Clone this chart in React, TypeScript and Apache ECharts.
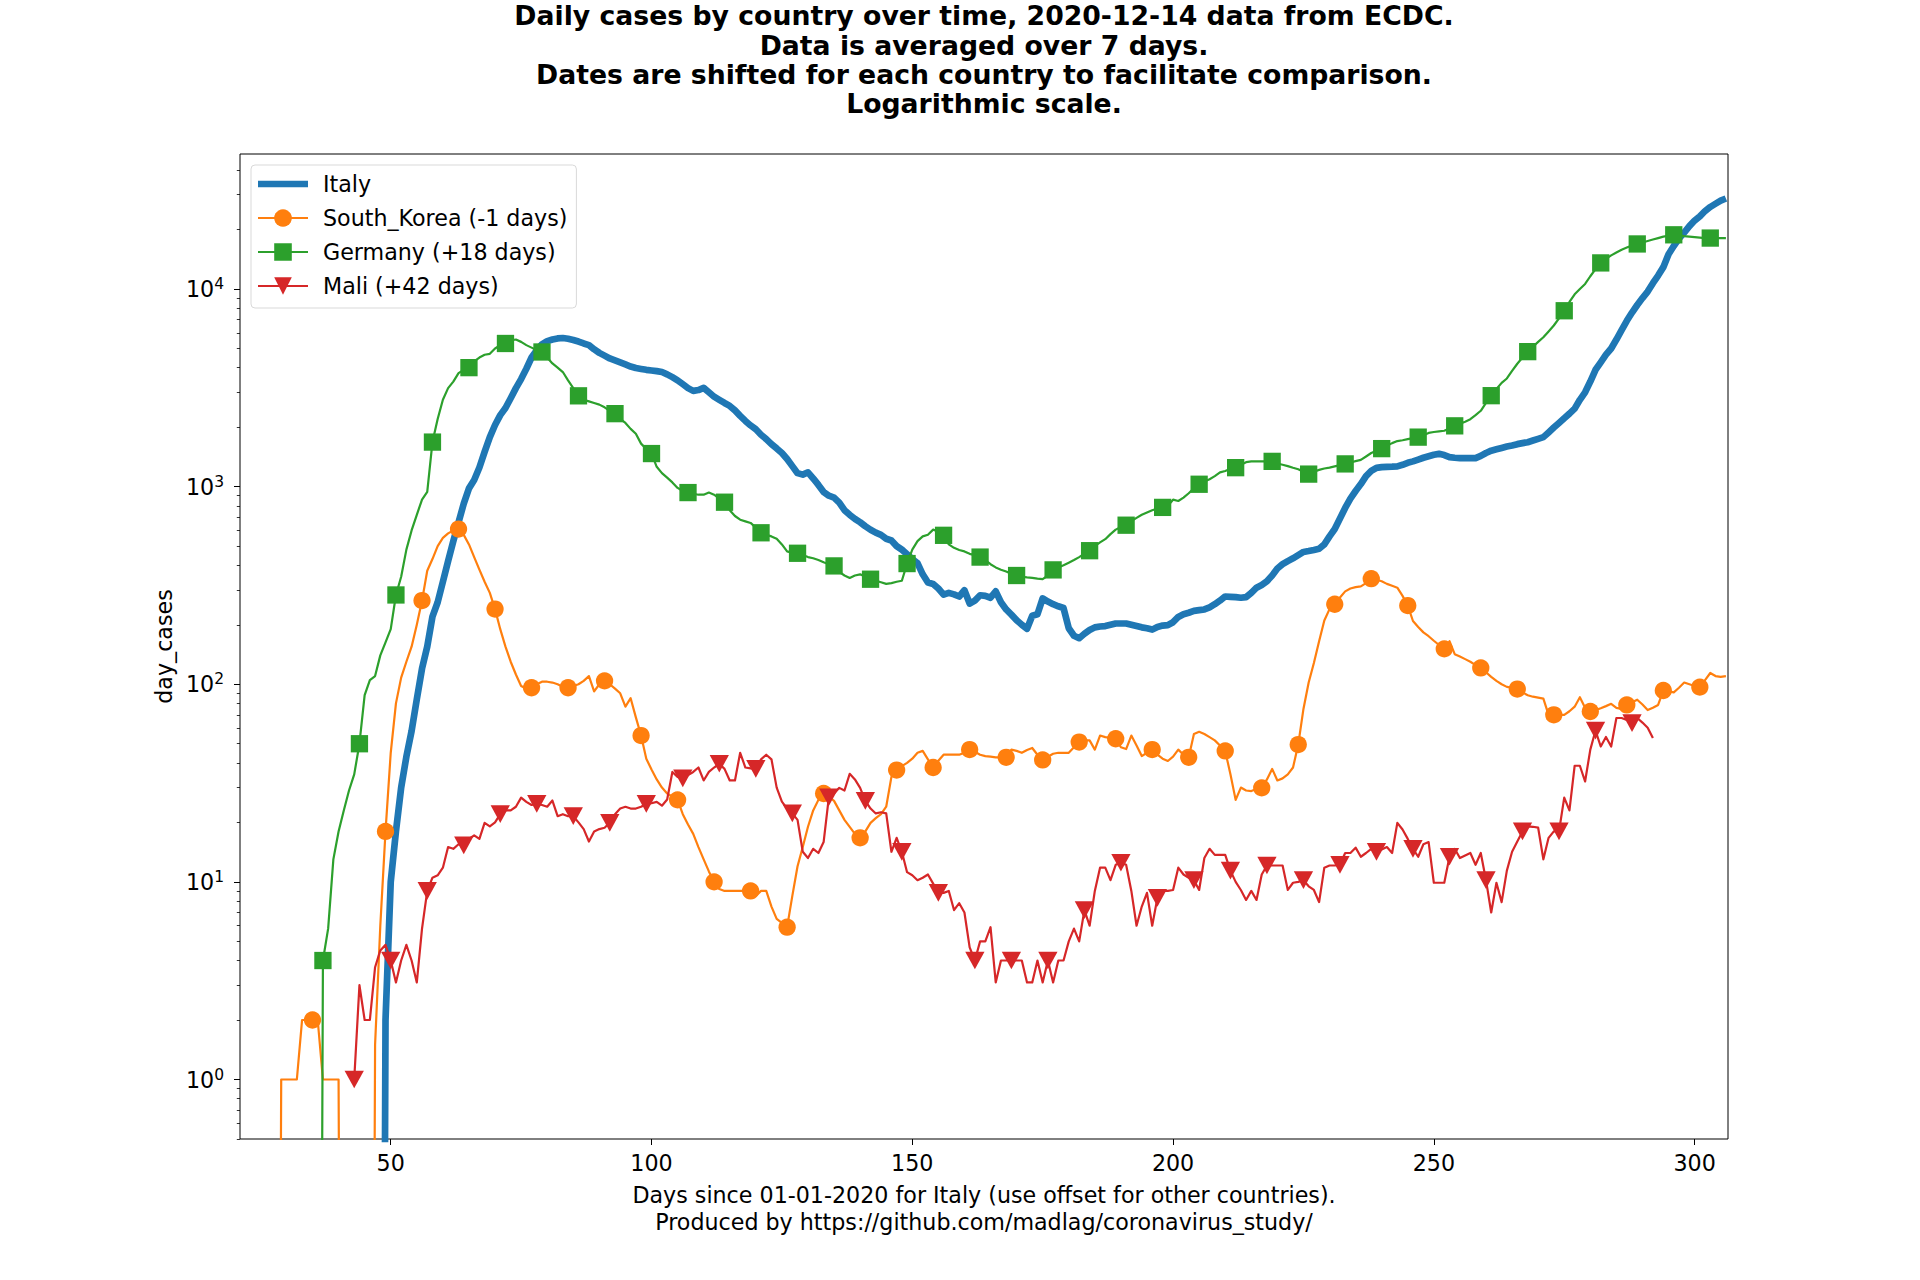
import React, { useEffect, useRef } from "react";
import * as echarts from "echarts";

// ---- data (7-day averaged daily cases) ----
const italyStart = 48;
const italyValues = [
  0, 2, 10, 18, 30, 43, 58, 84, 120, 155, 220, 260, 330, 420, 530, 660, 820, 980, 1080, 1250,
  1500, 1780, 2050, 2300, 2500, 2800, 3150, 3500, 3950, 4500, 4900, 5250, 5450, 5550, 5620, 5650, 5600, 5520, 5420, 5300,
  5200, 4950, 4750, 4600, 4450, 4350, 4250, 4150, 4050, 3980, 3940, 3900, 3870, 3840, 3800, 3700, 3580, 3450, 3300, 3150,
  3050, 3080, 3160, 3000, 2850, 2750, 2650, 2560, 2430, 2280, 2150, 2040, 1950, 1830, 1740, 1640, 1560, 1480, 1380, 1270,
  1170, 1150, 1180, 1100, 1020, 940, 900, 880, 830, 760, 720, 687, 660, 630, 605, 585, 570, 545, 534, 500,
  480, 455, 430, 410, 360, 327, 322, 305, 284, 290, 285, 278, 299, 256, 265, 282, 280, 274, 295, 260,
  239, 225, 211, 200, 191, 222, 226, 272, 262, 254, 248, 243, 192, 176, 171, 180, 188, 194, 196, 197,
  200, 203, 203, 203, 200, 197, 194, 192, 189, 195, 198, 199, 206, 219, 226, 230, 235, 237, 239, 245,
  254, 265, 278, 277, 276, 274, 276, 290, 308, 318, 332, 355, 385, 405, 420, 434, 450, 467, 472, 478,
  485, 510, 560, 610, 690, 780, 870, 950, 1030, 1130, 1200, 1245, 1255, 1260, 1262, 1266, 1290, 1320, 1342, 1370,
  1400, 1425, 1450, 1465, 1445, 1410, 1400, 1395, 1393, 1393, 1393, 1430, 1480, 1520, 1545, 1570, 1595, 1615, 1640, 1660,
  1678, 1710, 1745, 1780, 1880, 1990, 2100, 2220, 2340, 2480, 2750, 3000, 3400, 3900, 4250, 4650, 5000, 5550, 6200, 6900,
  7600, 8300, 9000, 9700, 10700, 11700, 12900, 15000, 16500, 18000, 19300, 20800, 22200, 23300, 24800, 26000, 27000, 28000, 28700,
];

const koreaStart = 28;
const koreaValues = [
  0, 1, 1, 1, 1, 2, 2, 2, 2, 1, 1, 1, 1, 0, 0, 0, 0, 0, 0, 1.5,
  6, 18, 45, 80, 108, 130, 155, 200, 265, 375, 430, 500, 550, 580, 600, 610, 570, 510, 440, 380,
  330, 290, 240, 190, 155, 130, 112, 98, 95, 96, 100, 103, 103, 102, 100, 97, 96, 98, 100, 104,
  110, 92, 100, 104, 100, 95, 90, 77, 85, 68, 55, 42, 37, 33, 30, 28, 27, 26, 22, 19.5,
  17.5, 15, 13, 11.3, 10, 9.2, 9, 9, 9, 9, 9, 9, 8.5, 9, 9, 7.5, 6.5, 6.2, 5.9, 8.5,
  12, 15, 19, 23, 26, 28, 27, 25.7, 23, 20.6, 19, 17.5, 16.7, 18, 19.9, 21, 22, 24, 34, 36.8,
  38.5, 40, 42, 45, 46, 41.7, 37.9, 41, 44, 44, 44, 44, 45, 46.7, 45.5, 44, 43.3, 43, 42.7, 42.7,
  42.7, 46.7, 46, 45, 46.5, 47.6, 44, 41.4, 43, 44.5, 45, 45, 45, 48, 51, 52, 52, 46.7, 55, 54,
  53.5, 53, 48, 47, 55, 49, 43.3, 45, 46.7, 44, 42, 40.9, 43, 46.7, 44, 42.7, 56, 57.5, 56, 54,
  52, 49, 46, 35, 26, 30, 29, 28.8, 29.5, 29.9, 33, 37.3, 32.6, 33.4, 35, 37.9, 49.5, 75, 102, 128,
  165, 210, 240, 254, 275, 295, 305, 310, 313, 325, 342, 338, 332, 322, 315, 308, 280, 250, 209, 195,
  183, 175, 166, 158, 151, 165, 142, 138, 134, 130, 125, 121, 115, 109, 104, 100, 97, 96, 94.5, 91,
  88, 86.5, 85.5, 84.6, 70, 70, 70, 70, 73, 77, 86, 76, 72.8, 74, 75.6, 77.5, 79.6, 76, 75, 78.6,
  81, 83.5, 79, 74, 76, 78.6, 93, 92, 91, 96, 102, 100, 98, 96.7, 105, 114, 110, 109, 110,
];

const germanyStart = 36;
const germanyValues = [
  0, 4, 5.8, 13, 18, 23, 29, 35, 50, 88, 105, 110, 140, 163, 190, 283, 350, 480, 600, 720,
  860, 940, 1680, 2200, 2750, 3150, 3400, 3750, 3900, 4000, 4300, 4500, 4650, 4700, 5000, 5200, 5300, 5500, 5550, 5400,
  5200, 5050, 4900, 4800, 4500, 4200, 4000, 3800, 3450, 3150, 2880, 2750, 2700, 2650, 2600, 2520, 2420, 2340, 2200, 2100,
  1960, 1850, 1650, 1550, 1470, 1260, 1170, 1110, 1050, 985, 950, 933, 920, 910, 910, 933, 910, 870, 834, 760,
  710, 680, 667, 655, 620, 584, 570, 560, 545, 510, 470, 462, 460, 450, 440, 434, 425, 414, 405, 397,
  370, 355, 345, 355, 360, 350, 340, 334, 328, 322, 325, 330, 334, 408, 480, 530, 560, 571, 606, 590,
  567, 510, 490, 478, 470, 457, 450, 440, 425, 405, 390, 380, 372, 362, 355, 350, 347, 345, 342, 340,
  355, 379, 390, 400, 412, 425, 440, 458, 474, 500, 522, 542, 575, 606, 625, 638, 670, 695, 720, 740,
  760, 775, 785, 800, 859, 846, 880, 926, 980, 1028, 1060, 1090, 1130, 1180, 1200, 1230, 1247, 1290, 1330, 1342,
  1342, 1342, 1342, 1342, 1310, 1290, 1270, 1245, 1224, 1190, 1157, 1190, 1215, 1235, 1247, 1265, 1285, 1303, 1325, 1345,
  1365, 1420, 1479, 1520, 1557, 1610, 1660, 1700, 1717, 1740, 1760, 1780, 1820, 1870, 1890, 1905, 1917, 1970, 2030, 2080,
  2130, 2193, 2300, 2420, 2650, 2885, 3120, 3350, 3525, 3850, 4185, 4500, 4820, 5100, 5400, 5700, 6100, 6535, 7100, 7760,
  8600, 9400, 10000, 10600, 11600, 12600, 13550, 14200, 14800, 15300, 15800, 16200, 16600, 16900, 17200, 17500, 17800, 18100, 18400, 18600,
  18800, 18700, 18500, 18400, 18300, 18200, 18100, 18100, 18100, 18100, 18100,
];

const maliStart = 43;
const maliValues = [
  1, 3, 2, 2, 3.7, 4.5, 4.8, 4, 3.1, 4, 4.8, 4, 3.1, 5.8, 9, 10.5, 10.8, 11.8, 15, 14.7,
  15.5, 15.3, 16.5, 17.2, 16.5, 19.9, 19.1, 20, 22, 23, 23, 24, 26.7, 25.4, 24.5, 24.8, 24.5, 24, 25.8, 21.5,
  22, 21.5, 21.5, 20, 18.5, 16, 18, 18.5, 18.8, 19.9, 22, 23.5, 24, 23.5, 23.5, 24, 24.8, 25, 25.4, 24.3,
  26.1, 36, 34, 33.4, 34.7, 36, 37.9, 32.6, 36, 37.9, 39.6, 37.3, 32.6, 32.6, 45, 37.9, 37.5, 37.3, 41.7, 44,
  41.7, 30, 25.5, 23.5, 22.2, 20.6, 14.2, 13.2, 14.7, 14, 15.9, 26.8, 28, 29.9, 29, 35.2, 33, 29.9, 25.7, 23.5,
  22.2, 22.5, 22.2, 14.2, 16.7, 14.2, 11.2, 10.8, 10.2, 10.5, 10.9, 9.8, 8.8, 8.8, 9, 7.2, 7.8, 7, 4.66, 4,
  5, 5, 5.9, 3.1, 4, 4, 4, 4, 4, 3.1, 3.1, 4, 3.1, 4, 3.1, 4, 4, 5, 5.8, 5,
  7.2, 6, 9, 11.8, 11.8, 10.2, 12.2, 12.5, 12.2, 9, 6, 7.5, 8.8, 6, 8.3, 9, 9, 9.1, 11.8, 10.9,
  10.5, 10.2, 9.1, 13.2, 14.7, 13.7, 13.7, 13.7, 11.4, 10, 9.1, 8.1, 9, 8.1, 10.9, 12.1, 12.1, 12.1, 12.1, 9.1,
  9.9, 10, 10.2, 9.5, 9.1, 7.9, 11.8, 12.1, 12.1, 12.2, 14, 14, 14.9, 13.4, 14, 14.7, 14.2, 14.6, 15, 14,
  19.9, 18.4, 16.5, 14.7, 13.4, 15.5, 15.9, 9.9, 9.9, 9.9, 13.4, 14.7, 13.2, 13.6, 14, 12.2, 14, 10.2, 7, 9.9,
  7.9, 11.4, 14.2, 16, 18, 19.1, 19, 18.8, 13, 16.7, 18, 18, 26.7, 23, 38.7, 38.7, 32.2, 46.7, 58.3, 48.4,
  54.1, 48.4, 67.5, 67.5, 66, 63.6, 67.5, 64, 60.3, 53.4,
];

// first day carrying a marker (markers every 7 days, matplotlib markevery)
const koreaMarkerStart = 35;
const germanyMarkerStart = 37;
const maliMarkerStart = 43;

const seriesNames = ["Italy", "South_Korea (-1 days)", "Germany (+18 days)", "Mali (+42 days)"];
const seriesColors = ["#1f77b4", "#ff7f0e", "#2ca02c", "#d62728"];

const xTicks = [50, 100, 150, 200, 250, 300];
const yTicks = [1, 10, 100, 1000, 10000];
const yMinorTicks = [
  0.5, 0.6, 0.7, 0.8, 0.9,
  2, 3, 4, 5, 6, 7, 8, 9,
  20, 30, 40, 50, 60, 70, 80, 90,
  200, 300, 400, 500, 600, 700, 800, 900,
  2000, 3000, 4000, 5000, 6000, 7000, 8000, 9000,
  20000, 30000, 40000,
];

const titleLines = [
  "Daily cases by country over time, 2020-12-14 data from ECDC.",
  "Data is averaged over 7 days.",
  "Dates are shifted for each country to facilitate comparison.",
  "Logarithmic scale.",
];
const xLabelLines = [
  "Days since 01-01-2020 for Italy (use offset for other countries).",
  "Produced by https://github.com/madlag/coronavirus_study/",
];
const yLabel = "day_cases";

const FONT = "'DejaVu Sans', 'Liberation Sans', sans-serif";
const FS = 22.2; // 10pt at 160 dpi
const TINY = 1e-6; // stands in for 0, which a log axis cannot show

function buildData(start: number, values: number[], markerStart: number | null) {
  return values.map((v, i) => {
    const day = start + i;
    const y = v > 0 ? v : TINY;
    const marked =
      markerStart !== null && day >= markerStart && (day - markerStart) % 7 === 0 && v > 0;
    return marked ? { value: [day, y] } : { value: [day, y], symbol: "none" };
  });
}

export default function App() {
  const ref = useRef<HTMLDivElement | null>(null);

  useEffect(() => {
    if (!ref.current) return;
    const chart = echarts.init(ref.current, undefined, { renderer: "svg" });

    const GRID = { left: 240, top: 154, width: 1488, height: 985 };
    const cx = GRID.left + GRID.width / 2;
    const titleLineGap = 29.3;
    const titleFirstCenter = 15.8;

    const baseLine = { join: "round" as const, cap: "butt" as const };

    const option: any = {
      animation: false,
      backgroundColor: "#ffffff",
      textStyle: { fontFamily: FONT, color: "#000" },
      graphic: titleLines.map((line, i) => ({
        type: "text",
        x: cx,
        y: titleFirstCenter + i * titleLineGap,
        silent: true,
        style: {
          text: line,
          fontFamily: FONT,
          fontSize: 26.7,
          fontWeight: "bold",
          lineHeight: 22,
          fill: "#000",
          align: "center",
          verticalAlign: "middle",
        },
      })),
      grid: {
        ...GRID,
        show: true,
        borderColor: "#000",
        borderWidth: 1,
        backgroundColor: "#fff",
        containLabel: false,
      },
      legend: {
        orient: "vertical",
        left: 251,
        top: 165,
        padding: [8, 9, 11, 6],
        itemWidth: 50,
        itemHeight: 22,
        itemGap: 12,
        backgroundColor: "#ffffff",
        borderColor: "#d9d9d9",
        borderWidth: 1,
        borderRadius: 4,
        selectedMode: false,
        textStyle: { fontFamily: FONT, fontSize: FS, color: "#000", lineHeight: 22, padding: [0, 0, 0, 10] },
        data: [
          { name: seriesNames[0], icon: "path://M0 0H50V6.7H0Z" },
          seriesNames[1],
          seriesNames[2],
          seriesNames[3],
        ],
      },
      xAxis: {
        type: "value",
        min: 21.1,
        max: 306.4,
        name: xLabelLines.join("\n"),
        nameLocation: "middle",
        nameGap: 43,
        nameTextStyle: { fontFamily: FONT, fontSize: FS, color: "#000", lineHeight: 26.5, verticalAlign: "top" },
        axisLine: { show: false },
        axisTick: { show: true, customValues: xTicks, length: 6, lineStyle: { color: "#000", width: 1 } },
        axisLabel: { customValues: xTicks, fontFamily: FONT, fontSize: FS, color: "#000", margin: 13 },
        splitLine: { show: false },
      },
      yAxis: [
        {
          type: "log",
          logBase: 10,
          min: 0.5,
          max: 48200,
          name: yLabel,
          nameLocation: "middle",
          nameGap: 64.5,
          nameRotate: 90,
          nameTextStyle: { fontFamily: FONT, fontSize: FS, color: "#000" },
          axisLine: { show: false },
          axisTick: { show: true, customValues: yTicks, length: 6, lineStyle: { color: "#000", width: 1 } },
          axisLabel: {
            customValues: yTicks,
            margin: 16,
            formatter: (v: number) => `{b|10}{s|${Math.round(Math.log10(v))}}`,
            rich: {
              b: { fontFamily: FONT, fontSize: FS, color: "#000", lineHeight: 26 },
              s: { fontFamily: FONT, fontSize: 15.5, color: "#000", lineHeight: 15, verticalAlign: "top" },
            },
          },
          splitLine: { show: false },
        },
        {
          type: "log",
          logBase: 10,
          min: 0.5,
          max: 48200,
          position: "left",
          axisLine: { show: false },
          axisTick: { show: true, customValues: yMinorTicks, length: 3.2, lineStyle: { color: "#000", width: 0.8 } },
          axisLabel: { show: false },
          splitLine: { show: false },
        },
      ],
      series: [
        {
          name: seriesNames[0],
          type: "line",
          silent: true,
          symbol: "none",
          data: buildData(italyStart, italyValues, null),
          lineStyle: { ...baseLine, color: seriesColors[0], width: 6.7 },
          itemStyle: { color: seriesColors[0] },
        },
        {
          name: seriesNames[1],
          type: "line",
          silent: true,
          symbol: "circle",
          symbolSize: 17.3,
          data: buildData(koreaStart, koreaValues, koreaMarkerStart),
          lineStyle: { ...baseLine, color: seriesColors[1], width: 2.2 },
          itemStyle: { color: seriesColors[1] },
        },
        {
          name: seriesNames[2],
          type: "line",
          silent: true,
          symbol: "rect",
          symbolSize: 17.3,
          data: buildData(germanyStart, germanyValues, germanyMarkerStart),
          lineStyle: { ...baseLine, color: seriesColors[2], width: 2.2 },
          itemStyle: { color: seriesColors[2] },
        },
        {
          name: seriesNames[3],
          type: "line",
          silent: true,
          symbol: "triangle",
          symbolRotate: 180,
          symbolSize: [19.3, 17.7],
          data: buildData(maliStart, maliValues, maliMarkerStart),
          lineStyle: { ...baseLine, color: seriesColors[3], width: 2.2 },
          itemStyle: { color: seriesColors[3] },
        },
      ],
    };

    chart.setOption(option);
    return () => chart.dispose();
  }, []);

  return (
    <div
      ref={ref}
      style={{ position: "fixed", left: 0, top: 0, width: 1920, height: 1280, background: "#fff" }}
    />
  );
}
